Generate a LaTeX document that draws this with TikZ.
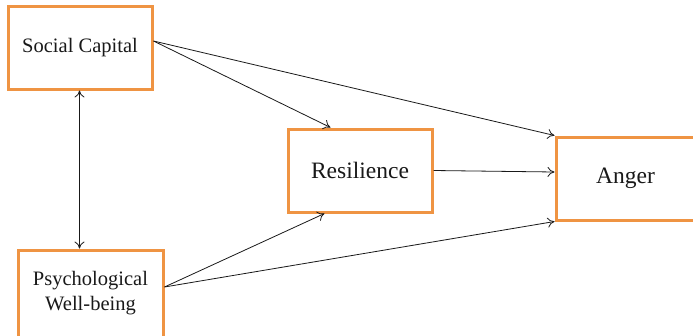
\documentclass[tikz,border=0pt]{standalone}
\usepackage{fontspec}
\setmainfont{Liberation Serif}
\usetikzlibrary{arrows.meta}
\definecolor{boxorange}{HTML}{EF9443}
\tikzset{
  varbox/.style={draw=boxorange, line width=3pt, fill=white, inner sep=0pt, align=center, text=black!90},
  pathArrow/.style={-{To[length=7pt,width=10pt]}, line width=0.8pt, black!90},
  dblArrow/.style={{To[length=7pt,width=10pt]}-{To[length=7pt,width=10pt]}, line width=0.8pt, black!90},
}
\begin{document}
\begin{tikzpicture}[x=1pt,y=-1pt]
\useasboundingbox (0,0) rectangle (693,335);
% boxes
\node[varbox, minimum width=144pt, minimum height=83pt, font=\fontsize{20.5}{22}\selectfont] (sc) at (80,47.5) {\raisebox{3pt}{Social Capital}};
\node[varbox, minimum width=144pt, minimum height=83pt, font=\fontsize{23.5}{26}\selectfont] (res) at (360,170.5) {Resilience};
\node[varbox, minimum width=139pt, minimum height=83pt, font=\fontsize{23.5}{26}\selectfont] (ang) at (625.5,178.5) {\raisebox{2pt}{Anger}};
\node[varbox, minimum width=145pt, minimum height=87pt, font=\fontsize{20.5}{25}\selectfont] (pwb) at (90.5,293.5) {Psychological\\Well-being};
% anchor points
\coordinate (scOut) at ([yshift=6.5pt]sc.east);
\coordinate (resIn) at ([xshift=44pt]res.north west);
\coordinate (resIn2) at ([xshift=38pt]res.south west);
\coordinate (resOut) at (res.east);
\coordinate (angTop) at (ang.north west);
\coordinate (angMid) at ([yshift=6.5pt]ang.west);
\coordinate (angBot) at (ang.south west);
\coordinate (pwbOut) at ([yshift=6.5pt]pwb.east);
\coordinate (scBot) at ([xshift=73pt]sc.south west);
\coordinate (pwbTop) at ([xshift=63pt]pwb.north west);
% connectors
\draw[pathArrow] (scOut) -- (resIn);
\draw[pathArrow] (scOut) -- (angTop);
\draw[pathArrow] (resOut) -- (angMid);
\draw[pathArrow] (pwbOut) -- (resIn2);
\draw[pathArrow] (pwbOut) -- (angBot);
\draw[dblArrow] (scBot) -- (pwbTop);
\end{tikzpicture}
\end{document}
